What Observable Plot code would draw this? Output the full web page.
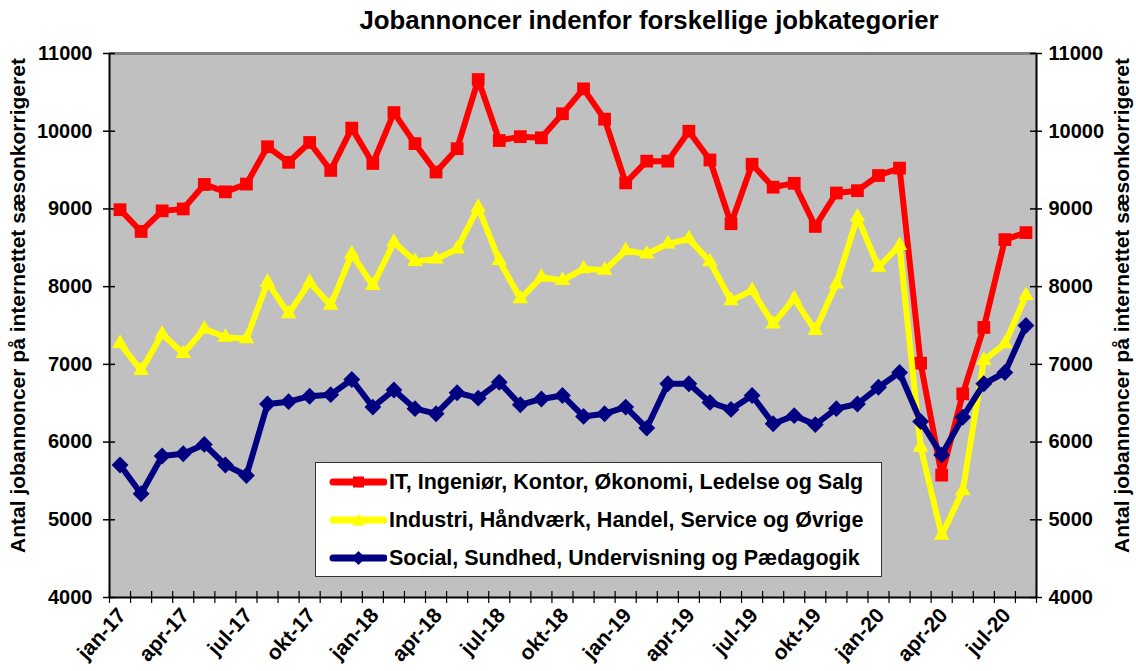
<!DOCTYPE html>
<html><head><meta charset="utf-8">
<script src="https://cdn.jsdelivr.net/npm/d3@7"></script>
<script src="https://cdn.jsdelivr.net/npm/@observablehq/plot@0.6"></script>
<style>
body{margin:0;background:#fff}
#wrap{position:relative;width:1136px;height:671px;font-family:"Liberation Sans",Arial,sans-serif}
#legend{position:absolute;left:315px;top:462px;width:567px;height:115px;background:#fff;border:1px solid #333;box-sizing:border-box}
.item{position:absolute;left:13px;height:30px;display:flex;align-items:center;font-weight:bold;font-size:21.5px;white-space:nowrap;color:#000}
.item svg{margin-right:2px}
</style></head>
<body><div id="wrap"><div id="chart"></div><div id="legend"></div></div>
<script>
const months = ["jan-17","feb-17","mar-17","apr-17","maj-17","jun-17","jul-17","aug-17","sep-17","okt-17","nov-17","dec-17",
"jan-18","feb-18","mar-18","apr-18","maj-18","jun-18","jul-18","aug-18","sep-18","okt-18","nov-18","dec-18",
"jan-19","feb-19","mar-19","apr-19","maj-19","jun-19","jul-19","aug-19","sep-19","okt-19","nov-19","dec-19",
"jan-20","feb-20","mar-20","apr-20","maj-20","jun-20","jul-20","aug-20"];
const xTickLabels = ["jan-17","apr-17","jul-17","okt-17","jan-18","apr-18","jul-18","okt-18","jan-19","apr-19","jul-19","okt-19","jan-20","apr-20","jul-20"];
const yTicks = [4000,5000,6000,7000,8000,9000,10000,11000];
const itSalg = [8990,8710,8975,9000,9315,9220,9320,9800,9600,9855,9495,10040,9585,10240,9840,9475,9775,10665,9880,9930,9915,10225,10545,10155,9335,9615,9615,10000,9630,8810,9575,9280,9330,8775,9205,9235,9430,9525,7015,5575,6620,7475,8605,8695];
const industri = [7270,6920,7390,7140,7455,7350,7330,8055,7650,8055,7760,8420,8015,8570,8325,8355,8485,9020,8335,7845,8120,8080,8230,8210,8465,8420,8550,8615,8320,7820,7950,7520,7845,7435,8035,8895,8250,8530,5935,4800,5375,7050,7265,7885];
const social = [5705,5335,5820,5850,5970,5705,5570,6490,6520,6590,6610,6805,6450,6670,6430,6365,6635,6565,6770,6480,6555,6600,6330,6365,6450,6180,6750,6750,6510,6420,6600,6235,6340,6225,6430,6490,6705,6895,6265,5835,6320,6750,6895,7500];
const seriesNames = ["IT, Ingeniør, Kontor, Økonomi, Ledelse og Salg","Industri, Håndværk, Handel, Service og Øvrige","Social, Sundhed, Undervisning og Pædagogik"];
const title = "Jobannoncer indenfor forskellige jobkategorier";
const yTitle = "Antal jobannoncer på internettet sæsonkorrigeret";

const series = [
  {name: seriesNames[0], values: itSalg, color: "#FF0000", symbol: "square", r: 7.2},
  {name: seriesNames[1], values: industri, color: "#FFFF00", symbol: "triangle", r: 5.8},
  {name: seriesNames[2], values: social, color: "#000080", symbol: "diamond2", r: 7.6}
];
const idx = months.map((m, i) => i);
const boundaries = d3.range(months.length + 1).map(i => i - 0.5);
const lo = -0.5, hi = months.length - 0.5;

const marks = [
  Plot.frame({fill: "#C0C0C0", stroke: "none"}),
  Plot.ruleY([11000], {stroke: "#808080", strokeWidth: 3}),
  Plot.ruleY([4000], {stroke: "#000", strokeWidth: 2}),
  Plot.ruleX([lo, hi], {stroke: "#000", strokeWidth: 2}),
  Plot.ruleY(yTicks, {x1: lo, x2: lo, insetLeft: -6, insetRight: -6, stroke: "#000", strokeWidth: 1.5}),
  Plot.ruleY(yTicks, {x1: hi, x2: hi, insetLeft: -6, insetRight: -6, stroke: "#000", strokeWidth: 1.5}),
  Plot.ruleX(boundaries, {y1: 4000, y2: 4000, insetTop: -6, insetBottom: -6, stroke: "#000", strokeWidth: 1.2})
];
for (const s of series) {
  marks.push(Plot.line(idx, {x: i => i, y: i => s.values[i], stroke: s.color, strokeWidth: 6, strokeLinejoin: "round"}));
  marks.push(Plot.dot(idx, {x: i => i, y: i => s.values[i], symbol: s.symbol, r: s.r, fill: s.color, stroke: "none"}));
}
marks.push(
  Plot.axisY({anchor: "left", ticks: yTicks, tickSize: 0, tickPadding: 17, tickFormat: d => String(d), fontSize: 20, fontWeight: "bold", label: null}),
  Plot.axisY({anchor: "right", ticks: yTicks, tickSize: 0, tickPadding: 12, tickFormat: d => String(d), fontSize: 20, fontWeight: "bold", label: null}),
  Plot.text(xTickLabels, {x: d => months.indexOf(d), frameAnchor: "bottom", rotate: -48, textAnchor: "end", lineAnchor: "middle", dy: 14, dx: 2, fontSize: 21, fontWeight: "bold"}),
  Plot.text([title], {frameAnchor: "top", textAnchor: "middle", lineAnchor: "middle", dx: 76, dy: -33, fontSize: 25.8, fontWeight: "bold"}),
  Plot.text([yTitle], {frameAnchor: "left", textAnchor: "middle", lineAnchor: "middle", rotate: -90, dx: -91, dy: -20, fontSize: 21, fontWeight: "bold"}),
  Plot.text([yTitle], {frameAnchor: "right", textAnchor: "middle", lineAnchor: "middle", rotate: -90, dx: 86, dy: -20, fontSize: 21, fontWeight: "bold"})
);

const chart = Plot.plot({
  width: 1136, height: 671,
  marginLeft: 109, marginRight: 100, marginTop: 53, marginBottom: 74,
  style: {fontFamily: "'Liberation Sans', Arial, sans-serif", background: "#fff", color: "#000", overflow: "visible"},
  x: {type: "linear", domain: [lo, hi], axis: null},
  y: {domain: [4000, 11000], axis: null},
  marks
});
document.getElementById("chart").appendChild(chart);

// legend
const legend = document.getElementById("legend");
const markerPaths = {
  square: '<rect x="24" y="2.5" width="11" height="11"/>',
  triangle: '<path d="M29.5 1.5 L36 13.5 L23 13.5 Z"/>',
  diamond2: '<path d="M29.5 1 L36.5 8 L29.5 15 L22.5 8 Z"/>'
};
series.forEach((s, k) => {
  const div = document.createElement("div");
  div.className = "item";
  div.style.top = (4 + k * 38) + "px";
  div.innerHTML = `<svg width="58" height="16" viewBox="0 0 58 16"><line x1="4" y1="8" x2="55" y2="8" stroke="${s.color}" stroke-width="7" stroke-linecap="round"/><g fill="${s.color}">${markerPaths[s.symbol]}</g></svg><span>${s.name}</span>`;
  legend.appendChild(div);
});
</script>
</body></html>
